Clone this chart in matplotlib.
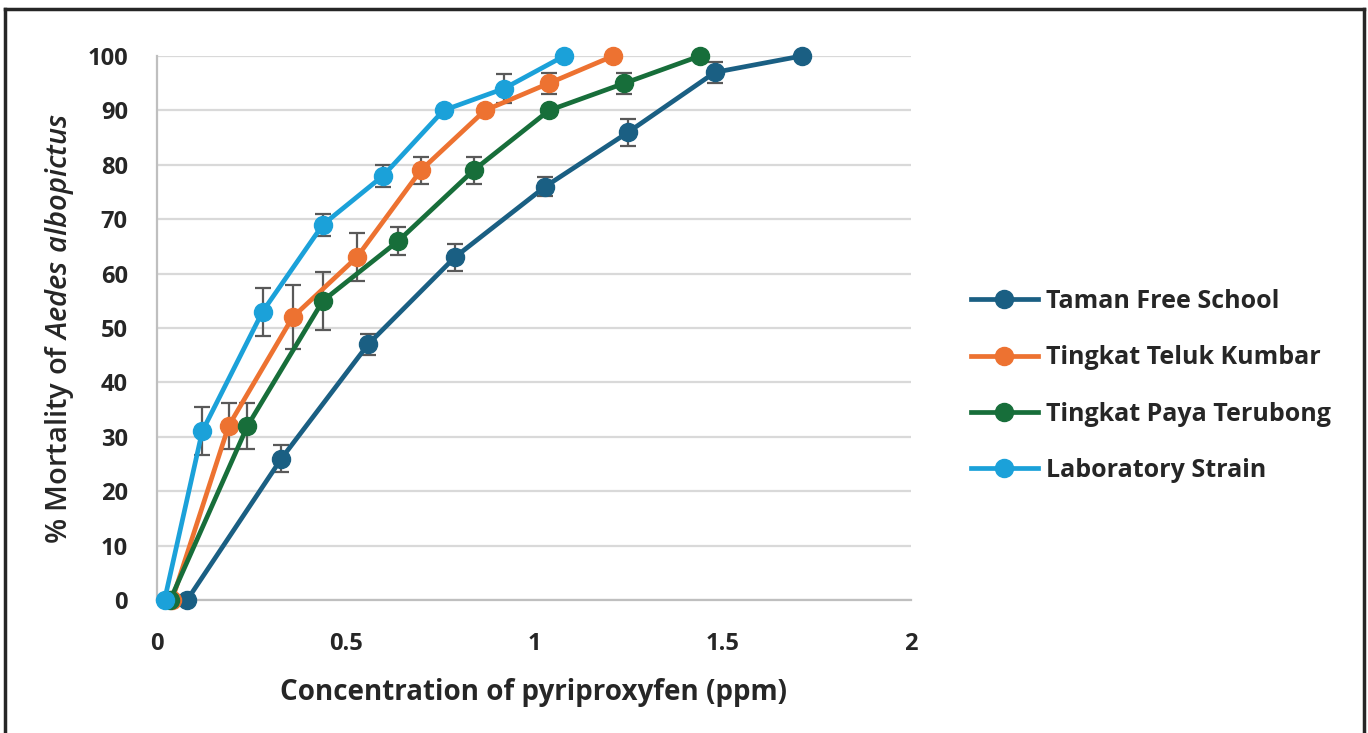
import matplotlib
matplotlib.use("Agg")
import matplotlib.pyplot as plt
from matplotlib.lines import Line2D

plt.rcParams['font.family'] = ['Open Sans', 'DejaVu Sans']
plt.rcParams['mathtext.fontset'] = 'custom'
plt.rcParams['mathtext.it'] = 'Open Sans:italic:semibold'
plt.rcParams['mathtext.rm'] = 'Open Sans:semibold'

# Data
series_names = ["Taman Free School", "Tingkat Teluk Kumbar",
                "Tingkat Paya Terubong", "Laboratory Strain"]
colors = ["#1A5F83", "#ED7231", "#176E3A", "#1BA1D9"]

taman_x = [0.08, 0.33, 0.56, 0.79, 1.03, 1.25, 1.48, 1.71]
taman_y = [0, 26, 47, 63, 76, 86, 97, 100]
taman_err = [0, 2.5, 1.9, 2.5, 1.7, 2.5, 1.9, 0]

teluk_x = [0.04, 0.19, 0.36, 0.53, 0.70, 0.87, 1.04, 1.21]
teluk_y = [0, 32, 52, 63, 79, 90, 95, 100]
teluk_err = [0, 4.2, 5.9, 4.4, 2.5, 0, 1.9, 0]

paya_x = [0.035, 0.24, 0.44, 0.64, 0.84, 1.04, 1.24, 1.44]
paya_y = [0, 32, 55, 66, 79, 90, 95, 100]
paya_err = [0, 4.2, 5.3, 2.6, 2.5, 0, 1.9, 0]

lab_x = [0.02, 0.12, 0.28, 0.44, 0.60, 0.76, 0.92, 1.08]
lab_y = [0, 31, 53, 69, 78, 90, 94, 100]
lab_err = [0, 4.4, 4.4, 2.0, 2.0, 0, 2.6, 0]

x_ticks = [0, 0.5, 1, 1.5, 2]
x_tick_labels = ["0", "0.5", "1", "1.5", "2"]
y_ticks = [0, 10, 20, 30, 40, 50, 60, 70, 80, 90, 100]

all_series = [(taman_x, taman_y, taman_err), (teluk_x, teluk_y, teluk_err),
              (paya_x, paya_y, paya_err), (lab_x, lab_y, lab_err)]

fig = plt.figure(figsize=(13.68, 7.33), dpi=100)
ax = fig.add_axes([157/1368, 1-600/733, (911-157)/1368, (600-56)/733])

LW = 3.4
MS = 13
for (xs, ys, es), c in zip(all_series, colors):
    ax.errorbar(xs, ys, yerr=es, fmt='none', ecolor="#595959",
                elinewidth=1.6, capsize=5.5, capthick=1.6, zorder=3)
for (xs, ys, es), c, name in zip(all_series, colors, series_names):
    ax.plot(xs, ys, color=c, lw=LW, marker='o', markersize=MS,
            label=name, zorder=4, clip_on=False)

ax.set_xlim(0, 2)
ax.set_ylim(0, 100)
ax.set_xticks(x_ticks)
ax.set_xticklabels(x_tick_labels)
ax.set_yticks(y_ticks)
ax.tick_params(axis='both', length=0, labelsize=17, labelcolor="#262626")
ax.tick_params(axis='x', pad=23)
ax.tick_params(axis='y', pad=21)
for lab in ax.get_xticklabels() + ax.get_yticklabels():
    lab.set_fontweight('bold')

ax.grid(axis='y', color="#D9D9D9", lw=1.6, zorder=0)
ax.set_axisbelow(True)
for s in ['top', 'right']:
    ax.spines[s].set_visible(False)
for s in ['left', 'bottom']:
    ax.spines[s].set_color("#BFBFBF")
    ax.spines[s].set_linewidth(1.6)

ax.set_xlabel("Concentration of pyriproxyfen (ppm)", fontsize=20,
              fontweight='bold', color="#262626", labelpad=16)
ax.set_ylabel("% Mortality of $\\mathit{Aedes\\ albopictus}$", fontsize=21,
              fontweight='semibold', color="#262626", labelpad=8)

handles = [Line2D([0], [0], color=c, lw=LW, marker='o', markersize=MS)
           for c in colors]
leg = fig.legend(handles, series_names, loc='center left',
                 bbox_to_anchor=(948/1368, 1-386/733), frameon=False,
                 handlelength=2.7, handletextpad=0.3, labelspacing=1.25,
                 prop={'size': 18, 'weight': 'bold'})
for t in leg.get_texts():
    t.set_color("#262626")

# figure border (open at bottom)
fig.add_artist(Line2D([5/1368, 5/1368], [0, 1-9/733], color="#262626",
                      lw=2.5, transform=fig.transFigure))
fig.add_artist(Line2D([5/1368, 1364/1368], [1-9/733, 1-9/733], color="#262626",
                      lw=2.5, transform=fig.transFigure))
fig.add_artist(Line2D([1364/1368, 1364/1368], [0, 1-9/733], color="#262626",
                      lw=2.5, transform=fig.transFigure))

fig.savefig("out.png", dpi=100)
